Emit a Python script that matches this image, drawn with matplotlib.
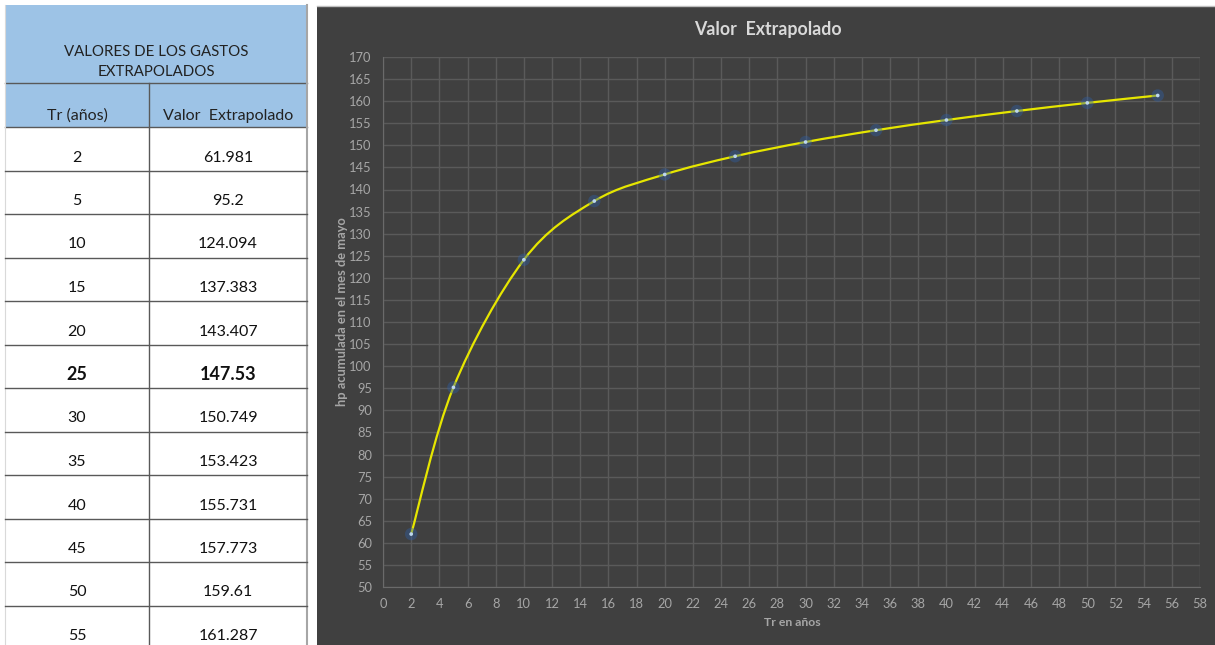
import matplotlib.pyplot as plt
from matplotlib.patches import Rectangle, PathPatch
from matplotlib.path import Path

plt.rcParams['font.family'] = ['Lato', 'DejaVu Sans']

# datos de la tabla / grafica
tr = [2, 5, 10, 15, 20, 25, 30, 35, 40, 45, 50, 55]
valor = [61.981, 95.2, 124.094, 137.383, 143.407, 147.53,
         150.749, 153.423, 155.731, 157.773, 159.61, 161.287]
fila_resaltada = 25

titulo_tabla = ["VALORES DE LOS GASTOS", "EXTRAPOLADOS"]
encabezados = ["Tr (años)", "Valor  Extrapolado"]

W, H = 1215, 645
fig = plt.figure(figsize=(W / 100, H / 100), dpi=100)
fig.patch.set_facecolor("white")

# ---- tabla (coordenadas en pixeles) ----
bg = fig.add_axes([0, 0, 1, 1])
bg.set_xlim(0, W)
bg.set_ylim(H, 0)
bg.axis("off")

x0, xm, x1 = 5, 149, 307
y0, yh1, yh2 = 5, 83, 127
row_h = 43.5
azul = "#9DC3E6"
linea = "#595959"

bg.add_patch(Rectangle((x0, y0), x1 - x0, yh2 - y0, facecolor=azul, edgecolor="none"))
bg.plot([x0, x1], [yh1, yh1], color=linea, lw=1)
bg.plot([x0, x1], [yh2, yh2], color=linea, lw=1)
bg.plot([xm, xm], [yh1, H], color=linea, lw=1)
bg.plot([x1, x1], [y0, H], color="#A6A6A6", lw=1.5)
bg.plot([x0, x0], [y0, H], color="#D9D9D9", lw=0.8)

bg.text((x0 + x1) / 2, 52, titulo_tabla[0], ha="center", va="center", fontsize=10.8, color="#222222")
bg.text((x0 + x1) / 2, 72, titulo_tabla[1], ha="center", va="center", fontsize=10.8, color="#222222")
bg.text((x0 + xm) / 2, 116, encabezados[0], ha="center", va="center", fontsize=11.5, color="#222222")
bg.text((xm + x1) / 2, 116, encabezados[1], ha="center", va="center", fontsize=11.5, color="#222222")

for i, (t, v) in enumerate(zip(tr, valor)):
    bottom = yh2 + row_h * (i + 1)
    if bottom < H:
        bg.plot([x0, x1], [bottom, bottom], color=linea, lw=1)
    bold = t == fila_resaltada
    fs = 13 if bold else 11.5
    fw = "bold" if bold else "normal"
    bg.text((x0 + xm) / 2, bottom - 13, str(t), ha="center", va="center",
            fontsize=fs, fontweight=fw, color="#111111")
    bg.text((xm + x1) / 2, bottom - 13, f"{v:g}", ha="center", va="center",
            fontsize=fs, fontweight=fw, color="#111111")

# ---- panel de la grafica ----
panel = "#404040"
bg.add_patch(Rectangle((317, 6), W - 317, H - 6, facecolor=panel, edgecolor="none"))
bg.plot([317, W], [5.5, 5.5], color="#BFBFBF", lw=1)

bg.text(768, 29, "Valor  Extrapolado", ha="center", va="center", fontsize=12.8,
        fontweight="bold", color="#D9D9D9")
bg.text(792, 622, "Tr en años", ha="center", va="center", fontsize=8.8,
        fontweight="bold", color="#A6A6A6")
bg.text(342, 312, "hp acumulada en el mes de mayo", ha="center", va="center",
        rotation=90, fontsize=9.3, fontweight="bold", color="#A6A6A6")

left, right, top, bot = 383, 1200, 57, 587
ax = fig.add_axes([left / W, (H - bot) / H, (right - left) / W, (bot - top) / H])
ax.set_facecolor(panel)
ax.set_xlim(0, 58)
ax.set_ylim(50, 170)
ax.set_xticks(range(0, 59, 2))
ax.set_yticks(range(50, 171, 5))
ax.grid(True, color="#5A5A5A", lw=1)
ax.set_axisbelow(True)
for s in ["top", "right"]:
    ax.spines[s].set_visible(False)
for s in ["left", "bottom"]:
    ax.spines[s].set_color("#6A6A6A")
ax.tick_params(length=0, colors="#A6A6A6", labelsize=9.3, pad=8)

# linea suavizada (bezier tipo Excel)
pts = list(zip(tr, valor))
verts = [pts[0]]
codes = [Path.MOVETO]
n = len(pts)
for i in range(n - 1):
    p0 = pts[max(i - 1, 0)]
    p1 = pts[i]
    p2 = pts[i + 1]
    p3 = pts[min(i + 2, n - 1)]
    c1 = (p1[0] + (p2[0] - p0[0]) / 6, p1[1] + (p2[1] - p0[1]) / 6)
    c2 = (p2[0] - (p3[0] - p1[0]) / 6, p2[1] - (p3[1] - p1[1]) / 6)
    verts += [c1, c2, p2]
    codes += [Path.CURVE4] * 3
ax.add_patch(PathPatch(Path(verts, codes), facecolor="none", edgecolor="#E6E600",
                       lw=1.6, zorder=3))

ax.scatter(tr, valor, s=80, color="#2E5FA8", alpha=0.4, edgecolors="none", zorder=4)
ax.scatter(tr, valor, s=7, color="#BDD7EE", edgecolors="none", zorder=5)

fig.savefig("out.png", dpi=100, facecolor=fig.get_facecolor())
